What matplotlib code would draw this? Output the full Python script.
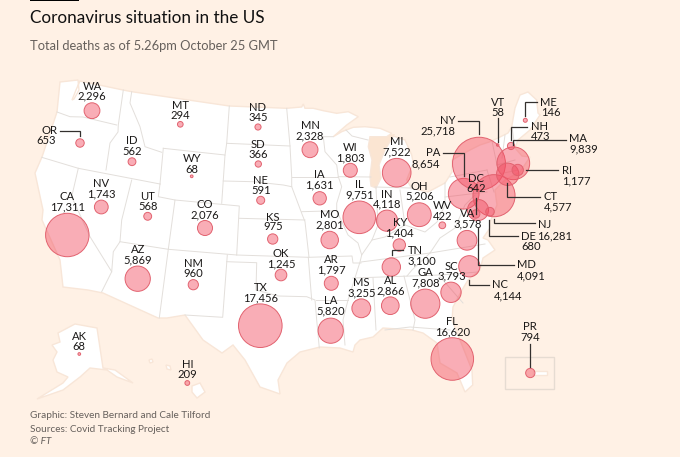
import matplotlib
matplotlib.use("Agg")
import numpy as np
import matplotlib.pyplot as plt
from matplotlib.patches import Polygon, Rectangle

plt.rcParams['font.family'] = ['Lato', 'DejaVu Sans']

# Data
states = ["WA", "OR", "CA", "NV", "ID", "MT", "WY", "UT", "AZ", "NM", "CO", "ND", "SD", "NE", "KS", "OK", "TX",
          "MN", "IA", "MO", "AR", "LA", "WI", "IL", "IN", "MI", "OH", "KY", "TN", "AL", "MS", "GA", "SC", "NC",
          "FL", "VA", "WV", "PA", "NY", "NJ", "MA", "CT", "RI", "NH", "VT", "ME", "MD", "DC", "DE", "AK", "HI", "PR"]
deaths = [2296, 653, 17311, 1743, 562, 294, 68, 568, 5869, 960, 2076, 345, 366, 591, 975, 1245, 17456,
          2328, 1631, 2801, 1797, 5820, 1803, 9751, 4118, 7522, 5206, 1404, 3100, 2866, 3255, 7808, 3793, 4144,
          16620, 3578, 422, 8654, 25718, 16281, 9839, 4577, 1177, 473, 58, 146, 4091, 642, 680, 68, 209, 794]

# Map positions, all in picture pixels
bubble_xy = {"WA": (92, 110.7), "OR": (80, 143), "CA": (67.3, 235), "NV": (101.3, 207), "ID": (132, 161.7),
             "MT": (180.3, 124.3), "WY": (191.7, 176.3), "UT": (147.7, 216.3), "AZ": (137.7, 278.7),
             "NM": (193.3, 284.7), "CO": (205, 228), "ND": (258, 127), "SD": (258.3, 164), "NE": (260.7, 200.3),
             "KS": (272.7, 239), "OK": (281, 275), "TX": (260.3, 325.7), "MN": (310, 149.7), "IA": (319.7, 198.3),
             "MO": (329.7, 240), "AR": (331.3, 283.3), "LA": (330.7, 330.7), "WI": (350.3, 170.3), "IL": (359.3, 217.3),
             "IN": (387, 220.7), "MI": (396.7, 172.7), "OH": (419.3, 214.7), "KY": (399.3, 245), "TN": (391.3, 267),
             "AL": (390.3, 305.7), "MS": (361.3, 308.3), "GA": (425.3, 303.7), "SC": (451, 292.3), "NC": (469.3, 266.3),
             "FL": (452.3, 359), "VA": (467, 240.3), "WV": (442.3, 225.3), "PA": (463.7, 193.7), "NY": (479, 163.7),
             "NJ": (494, 195.7), "MA": (513.3, 163.3), "CT": (507.7, 174.3), "RI": (517.7, 170), "NH": (511, 146),
             "VT": (497.7, 145), "ME": (525.3, 120.3), "MD": (478, 210), "DC": (475.7, 214), "DE": (490, 211.7),
             "AK": (79.3, 354), "HI": (187.3, 383), "PR": (530.3, 373)}
name_xy = {"WA": (92, 86.7), "OR": (49, 130), "CA": (67.3, 196.7), "NV": (101.3, 183.7), "ID": (132, 141),
           "MT": (180.3, 105.7), "WY": (191.7, 159), "UT": (147.7, 196), "AZ": (137.7, 249.3), "NM": (193.3, 263.3),
           "CO": (205, 204), "ND": (258, 107.3), "SD": (258.3, 144.3), "NE": (260.7, 180.3), "KS": (272.7, 217.3),
           "OK": (281, 253.3), "TX": (260.3, 287.7), "MN": (310, 125.3), "IA": (319.7, 175), "MO": (329.7, 215),
           "AR": (331.3, 259.7), "LA": (330.7, 300.3), "WI": (350.3, 147.3), "IL": (359.3, 184.3), "IN": (387, 194.3),
           "MI": (396.3, 141.7), "OH": (419.3, 186.7), "KY": (399.7, 222.7), "TN": (415.3, 250), "AL": (390.3, 280.3),
           "MS": (361.3, 283), "GA": (425.3, 272), "SC": (451.7, 266), "NC": (500, 285), "FL": (452.3, 321.3),
           "VA": (467.3, 213.7), "WV": (442.7, 205.3), "PA": (432.7, 153), "NY": (447.3, 120.3), "NJ": (545, 224.3),
           "MA": (578, 139), "CT": (550.7, 197), "RI": (566.7, 170), "NH": (539, 126), "VT": (497.7, 102.7),
           "ME": (548.7, 102), "MD": (526, 265), "DC": (475.7, 178.3), "DE": (528.7, 236.7), "AK": (79.3, 336.3),
           "HI": (187.3, 364), "PR": (530.3, 327)}
value_xy = {"WA": (92, 96.3), "OR": (46.3, 140.7), "CA": (67.3, 207), "NV": (101.3, 194), "ID": (132, 151.3),
            "MT": (180.3, 115.3), "WY": (191.7, 169.3), "UT": (147.7, 206.3), "AZ": (137.7, 259.7), "NM": (193.3, 273.7),
            "CO": (205, 214.7), "ND": (258, 117.7), "SD": (258.3, 154.7), "NE": (260.7, 190.7), "KS": (272.7, 227),
            "OK": (281, 263.7), "TX": (260.3, 298), "MN": (310, 135.7), "IA": (319.7, 185.3), "MO": (329.7, 225.3),
            "AR": (331.3, 270), "LA": (330.7, 311), "WI": (350.3, 157.7), "IL": (359.3, 194.7), "IN": (387, 204.3),
            "MI": (396.3, 152), "OH": (419.3, 196.3), "KY": (399.7, 233.3), "TN": (421.7, 260.7), "AL": (390.3, 290.7),
            "MS": (361.3, 293.3), "GA": (425.3, 282.7), "SC": (451.7, 276.3), "NC": (507.7, 296), "FL": (452.3, 331.7),
            "VA": (467.3, 224.3), "WV": (442.7, 216), "PA": (425.7, 163.7), "NY": (437.7, 130.7), "NJ": (555, 235.6),
            "MA": (584, 149), "CT": (557.7, 207), "RI": (576, 181), "NH": (541, 137), "VT": (497.7, 112.7),
            "ME": (550.7, 112), "MD": (531.7, 275.6), "DC": (475.7, 189), "DE": (531, 246.7), "AK": (79.3, 346.7),
            "HI": (187.3, 374.3), "PR": (530.3, 337.7)}

# Coast, clockwise from the north west corner of WA
us_outline = [(60, 82), (78, 80), (79, 90), (74, 99), (72, 100), (76, 90), (80, 81), (123, 90), (131.7, 91.7), (229.3, 106),
              (286.7, 108.3), (301.7, 107),
              (303.3, 104), (305, 108.3), (313.3, 108.3), (323.3, 110.7), (336.7, 113.3), (348.3, 111.7), (358.3, 116.7),
              (346.7, 125), (333.3, 136.7), (341.7, 131.7), (353.3, 127.3), (365, 126.7), (380, 128.3), (391.7, 133.3),
              (386.7, 136.7), (370, 136.7), (368.3, 146.7), (372, 160), (370, 176.7), (371, 186), (376, 188),
              (381, 178), (379, 165), (385, 150), (393.3, 136), (405, 140), (411.7, 155), (413.3, 163.3), (406.7, 180),
              (411.7, 188.3), (428, 192), (445, 183), (452, 172), (452, 160), (470, 150), (480, 145), (490, 141.7),
              (498, 138), (508, 133), (511.7, 126.7), (515, 108), (520, 95), (528, 92), (536.7, 100), (538, 113),
              (540, 115), (530, 130), (518, 140), (515, 148), (522, 156), (530, 157), (520, 172), (505, 180),
              (495, 190), (497, 205), (490, 222), (490, 228), (483, 238), (488, 240), (495, 250), (483, 258),
              (480, 270), (468, 280), (462, 290), (453, 307), (452, 320), (472, 370), (472.7, 385), (465, 392),
              (457, 373), (440, 363), (437, 343), (423, 333), (412, 330), (383, 328), (373, 337), (360, 340),
              (355, 345), (353, 352), (340, 348), (320, 347), (300, 352), (287, 363), (278, 380), (280, 394),
              (260, 387), (245, 360), (233, 345), (222, 353), (203, 340), (185, 315), (167, 318), (158, 318),
              (103, 293), (88, 290), (63, 287), (60, 260), (42, 220), (43, 210), (35, 173), (42, 157), (57, 112)]
alaska = [(58, 333), (75, 324), (97, 328), (103, 368), (115, 370), (133, 383), (117, 377), (107, 370), (90, 368),
          (80, 377), (63, 390), (37, 399), (63, 383), (68, 377), (57, 372), (53, 360), (57, 352), (52, 345), (60, 342)]
hawaii = [[(192, 386), (200, 383), (205, 392), (197, 398), (192, 392)], [(166, 365), (170, 366), (171, 370), (167, 369)],
          [(149, 360), (152, 359), (153, 362), (150, 363)]]
puerto_rico = [(533, 371), (547, 371), (547, 375), (533, 375)]
lake_michigan = [(366, 138), (395, 134), (386, 150), (384, 192), (367, 192)]

state_lines = [
    [(57, 112), (70, 116.7), (83, 117), (116.7, 125)], [(123.3, 90), (118.3, 125), (118, 132), (110, 143), (106, 170)],
    [(41.7, 157.3), (78.3, 168.3), (160, 184)], [(78.3, 168.3), (71.7, 196.7), (90, 236.7), (111.7, 271.7), (101.7, 291.7)],
    [(131.7, 180), (121.7, 220), (120, 241.7), (113.3, 251.7), (111.7, 271.7)], [(160, 184), (158.3, 196.7), (175, 200), (168.3, 249.3)],
    [(120, 241.7), (168.3, 249.3), (236.7, 255), (308.3, 257.3)], [(168.3, 249.3), (159.3, 318)],
    [(227.3, 255), (222.7, 317.3), (185, 315)], [(226.7, 261.7), (256.7, 262.7), (256, 290), (278.3, 296), (306.7, 296.7),
    (315, 300), (316.7, 320), (319.3, 348)], [(308.3, 257.3), (311.7, 300)],
    [(131.7, 91.7), (130, 103), (140, 126.7), (145, 146.7), (161.7, 152.3)], [(163.3, 148.3), (160, 184)],
    [(163.3, 148.3), (225, 155), (221.7, 203.3)], [(229.3, 106), (226.7, 143.3), (225, 155)],
    [(226.7, 143.3), (290, 146)], [(223.3, 181), (253.3, 181.7), (283.3, 185), (291.7, 186.7)],
    [(286.7, 108.3), (290, 146), (291.7, 176.7), (291.7, 186.7), (301.7, 213.3), (305, 221.7), (309, 257.3)],
    [(175, 200), (239.3, 206), (236.7, 255)], [(239.3, 218.3), (305, 220)], [(291.7, 176.7), (338.3, 176.7)],
    [(301.7, 211.7), (336.7, 210.7)], [(333.3, 136.7), (323.3, 136.7), (325, 151.7), (336.7, 165), (338.3, 176.7),
    (341.7, 186.7), (336.7, 203.3), (336.7, 210.7), (348, 235), (358, 243), (361.7, 255), (360, 262), (348, 300), (343, 320), (345, 345)],
    [(338.3, 176.7), (371, 177)], [(346, 130), (352, 136), (368, 140)], [(309, 257.3), (352, 256), (353, 263), (361, 263)],
    [(376, 188), (378, 225), (372, 240), (361.7, 255)], [(375, 187), (411, 188)], [(400, 190), (405, 225)],
    [(372, 240), (385, 237), (405, 225), (425, 232), (437, 222), (445, 205), (445, 183)], [(361, 262), (430, 253), (485, 244)],
    [(430, 253), (440, 238), (455, 228), (465, 205), (475, 195)], [(445, 197), (487, 192)],
    [(353, 278), (440, 275), (478, 272)], [(430, 253), (412, 270), (407, 276)], [(440, 276.7), (463, 303)],
    [(316, 300), (348, 300)], [(373, 278), (376, 330)], [(404, 276), (415, 320), (413, 330)], [(385, 330), (410, 327), (450, 330)],
    [(450, 177), (487, 170)], [(487, 170), (494, 192)], [(492, 141), (497, 165)], [(505, 135), (502, 158)], [(497, 165), (515, 160)],
    [(499, 174), (518, 170)], [(512, 127), (515, 148)],
]

leaders = [
    [(60, 130.7), (80.3, 130.7), (80.3, 136)], [(391.7, 255), (391.7, 250), (403.3, 250)],
    [(469.3, 280), (469.3, 285), (489.3, 285)], [(530.3, 344), (530.3, 366.7)], [(476, 198), (476, 214)],
    [(477.5, 228), (477.5, 265), (514, 265)], [(489.3, 220), (489.3, 236), (518, 236)], [(494, 219), (494, 223), (535, 223)],
    [(506.7, 183), (506.7, 196.7), (540, 196.7)], [(526, 170), (558, 170)], [(513.3, 145), (513.3, 140), (566, 140)],
    [(511, 140), (511, 126.7), (527, 126.7)], [(525.3, 116), (525.3, 102), (537, 102)], [(497.7, 118), (497.7, 142)],
    [(458.3, 120.7), (479, 120.7), (479, 134)], [(443.3, 152.7), (464, 152.7), (464, 175.7)],
]

fig = plt.figure(figsize=(6.8, 4.57), dpi=100, facecolor="#fff1e5")
ax = fig.add_axes([0, 0, 1, 1])
ax.set_xlim(0, 680)
ax.set_ylim(457, 0)
ax.axis("off")

# Land
ax.add_patch(Polygon(lake_michigan, closed=True, fc="#fbe5d2", ec="none", zorder=0.5))
for shape in [us_outline, alaska, puerto_rico] + hawaii:
    ax.add_patch(Polygon(shape, closed=True, fc="white", ec="#f8e6d8", lw=1, zorder=1))
for line in state_lines:
    xs, ys = zip(*line)
    ax.plot(xs, ys, color="#e3dfdb", lw=0.7, zorder=2)
ax.add_patch(Rectangle((505, 356.7), 49.3, 32.6, fc="none", ec="#e6dcd2", lw=1, zorder=2))

# Bubbles, area goes with deaths
radius_px = 0.165 * np.sqrt(np.array(deaths))
sizes = (2 * radius_px * 72 / fig.dpi) ** 2
bx = [bubble_xy[s][0] for s in states]
by = [bubble_xy[s][1] for s in states]
ax.scatter(bx, by, s=sizes, facecolor=(0.95, 0.30, 0.38, 0.46), edgecolor="#e2626f", linewidth=0.7, zorder=3)

for line in leaders:
    xs, ys = zip(*line)
    ax.plot(xs, ys, color="#33302e", lw=0.9, zorder=4, solid_joinstyle="miter")

for s, d in zip(states, deaths):
    ax.text(*name_xy[s], s, ha="center", va="center", fontsize=8.1, color="#1a1817", zorder=5)
    ax.text(*value_xy[s], f"{d:,}", ha="center", va="center", fontsize=8.1, color="#1a1817", zorder=5)

# Header and footer
ax.add_patch(Rectangle((30, 0), 48.5, 1.2, fc="black", ec="none"))
ax.text(30, 18, "Coronavirus situation in the US", fontsize=12.3, color="#111111", va="center")
ax.text(30, 45.5, "Total deaths as of 5.26pm October 25 GMT", fontsize=9.25, color="#66605c", va="center")
ax.text(30, 415.7, "Graphic: Steven Bernard and Cale Tilford", fontsize=7.2, color="#66605c", va="center")
ax.text(30, 429, "Sources: Covid Tracking Project", fontsize=7.2, color="#66605c", va="center")
ax.text(30, 442, "© FT", fontsize=7.2, color="#66605c", va="center", style="italic")

fig.savefig("out.png", dpi=100, facecolor=fig.get_facecolor())
